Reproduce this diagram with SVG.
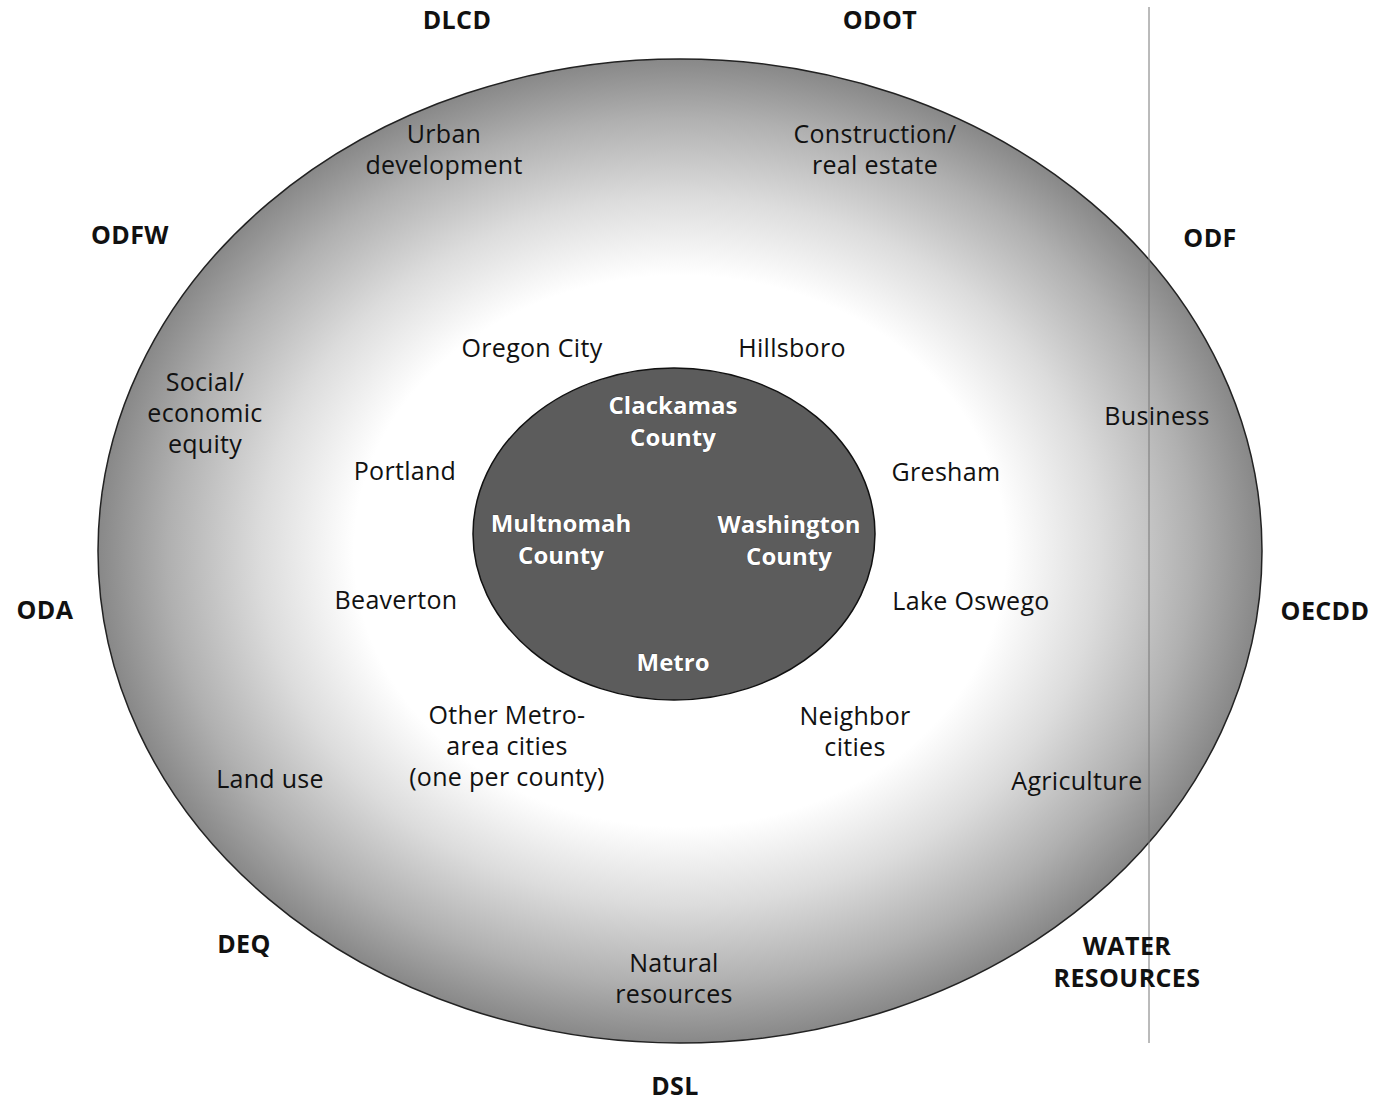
<svg xmlns="http://www.w3.org/2000/svg" width="1380" height="1100" viewBox="0 0 1380 1100">
<style>
text{font-family:"Open Sans","Noto Sans","Liberation Sans",sans-serif;text-anchor:middle;fill:#111}
.ag{font-size:25px;font-weight:700;letter-spacing:0.4px}
.lb{font-size:25px;letter-spacing:0.3px}
.in{font-size:24px;font-weight:700;fill:#fff;stroke:#333;stroke-width:0.6px;paint-order:stroke}
</style>
<defs>
<radialGradient id="g" cx="0.5" cy="0.5" r="0.5">
<stop offset="0" stop-color="#fff"/>
<stop offset="0.56" stop-color="#fff"/>
<stop offset="0.72" stop-color="#dcdcdc"/>
<stop offset="0.88" stop-color="#b0b0b0"/>
<stop offset="1" stop-color="#888"/>
</radialGradient>
</defs>
<rect width="1380" height="1100" fill="#fff"/>
<g id="outer"><ellipse cx="680" cy="551" rx="582" ry="492" fill="url(#g)" stroke="#222" stroke-width="1.5"/></g>
<g id="inner"><ellipse cx="674" cy="534" rx="201" ry="166" fill="#5c5c5c" stroke="#111" stroke-width="1.5"/></g>
<g id="connectors"><line x1="1149" y1="7" x2="1149" y2="1043" stroke="#777" stroke-width="1"/></g>
<g id="agencies">
<text class="ag" x="457" y="29">DLCD</text>
<text class="ag" x="880" y="29">ODOT</text>
<text class="ag" x="130" y="244">ODFW</text>
<text class="ag" x="1210" y="247">ODF</text>
<text class="ag" x="45" y="619">ODA</text>
<text class="ag" x="1325" y="620">OECDD</text>
<text class="ag" x="244" y="953">DEQ</text>
<text class="ag" x="1127" y="955">WATER</text>
<text class="ag" x="1127" y="987">RESOURCES</text>
<text class="ag" x="675" y="1095">DSL</text>
</g>
<g id="sectors">
<text class="lb" x="444" y="143">Urban</text>
<text class="lb" x="444" y="174">development</text>
<text class="lb" x="875" y="143">Construction/</text>
<text class="lb" x="875" y="174">real estate</text>
<text class="lb" x="205" y="391">Social/</text>
<text class="lb" x="205" y="422">economic</text>
<text class="lb" x="205" y="453">equity</text>
<text class="lb" x="1157" y="425">Business</text>
<text class="lb" x="270" y="788">Land use</text>
<text class="lb" x="1077" y="790">Agriculture</text>
<text class="lb" x="674" y="972">Natural</text>
<text class="lb" x="674" y="1003">resources</text>
</g>
<g id="cities">
<text class="lb" x="532" y="357">Oregon City</text>
<text class="lb" x="792" y="357">Hillsboro</text>
<text class="lb" x="405" y="480">Portland</text>
<text class="lb" x="946" y="481">Gresham</text>
<text class="lb" x="396" y="609">Beaverton</text>
<text class="lb" x="971" y="610">Lake Oswego</text>
<text class="lb" x="507" y="724">Other Metro-</text>
<text class="lb" x="507" y="755">area cities</text>
<text class="lb" x="507" y="786">(one per county)</text>
<text class="lb" x="855" y="725">Neighbor</text>
<text class="lb" x="855" y="756">cities</text>
</g>
<g id="core">
<text class="in" x="673" y="414">Clackamas</text>
<text class="in" x="673" y="446">County</text>
<text class="in" x="561" y="532">Multnomah</text>
<text class="in" x="561" y="564">County</text>
<text class="in" x="789" y="533">Washington</text>
<text class="in" x="789" y="565">County</text>
<text class="in" x="673" y="671">Metro</text>
</g>
</svg>
